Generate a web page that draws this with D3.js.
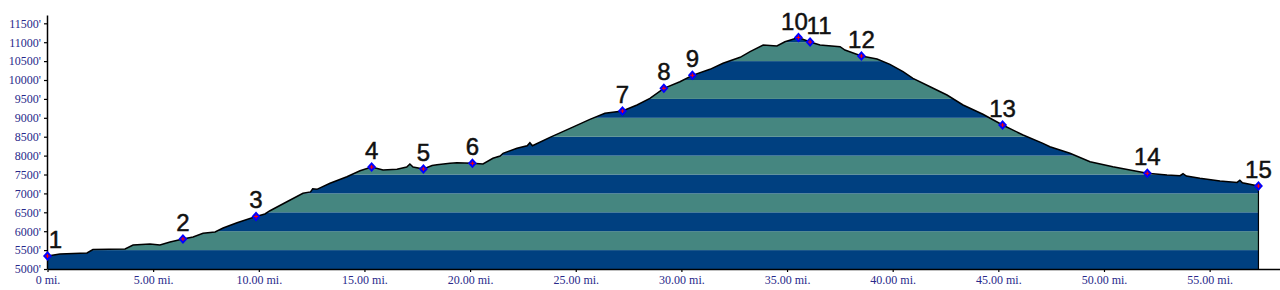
<!DOCTYPE html>
<html>
<head>
<meta charset="utf-8">
<script src="https://cdn.jsdelivr.net/npm/d3@7"></script>
<style>
  html, body { margin: 0; padding: 0; background: #fff; }
  svg { display: block; }
</style>
</head>
<body>
<svg id="chart" width="1280" height="290"></svg>
<script>
// Elevation profile (miles, feet)
const profileMiles = [0, 0.59, 1.87, 2.15, 3.67, 4.05, 4.85, 5.32, 5.80, 6.41, 6.89, 7.36, 7.93, 8.31, 8.97, 9.87,
  10.29, 10.53, 11.33, 12.09, 12.45, 12.55, 12.75, 13.37, 14.17, 14.79, 15.34, 15.88, 16.54, 17.00, 17.15, 17.30, 17.79, 18.20, 18.43, 19.05, 19.38,
  20.11, 20.61, 21.08, 21.42, 21.56, 22.22, 22.70, 22.83, 22.95, 23.78, 24.73, 25.67, 26.38, 27.21, 27.90, 28.51, 29.17, 29.93,
  30.52, 31.35, 31.97, 32.78, 33.25, 33.87, 34.52, 34.90, 35.54, 36.09, 36.56, 37.51, 37.74, 38.52, 39.26, 39.87,
  40.49, 40.96, 41.77, 42.57, 43.33, 44.27, 45.20, 46.17, 47.11, 47.44, 48.39, 49.34, 50.42, 51.23, 52.05, 52.98,
  53.60, 53.74, 53.90, 54.54, 55.49, 56.30, 56.43, 56.55, 57.31];
const profileFeet = [5344, 5397, 5423, 5516, 5529, 5635, 5661, 5635, 5714, 5794, 5847, 5944, 5979, 6085, 6225, 6389,
  6455, 6542, 6780, 7003, 7040, 7120, 7108, 7267, 7442, 7600, 7698, 7619, 7638, 7700, 7780, 7700, 7646, 7740, 7759, 7796, 7812,
  7796, 7778, 7929, 7989, 8061, 8193, 8260, 8340, 8260, 8484, 8722, 8960, 9119, 9180, 9339, 9516, 9780, 9955,
  10124, 10283, 10442, 10601, 10749, 10926, 10899, 11013, 11124, 11005, 10926, 10881, 10794, 10635, 10556, 10415,
  10220, 10045, 9823, 9603, 9339, 9093, 8810, 8545, 8325, 8235, 8061, 7839, 7706, 7619, 7532, 7487,
  7470, 7520, 7460, 7399, 7328, 7290, 7350, 7280, 7196];

// Waypoints
const waypointLabels = ["1","2","3","4","5","6","7","8","9","10","11","12","13","14","15"];
const waypointMiles = [0, 6.41, 9.87, 15.34, 17.79, 20.11, 27.21, 29.17, 30.52, 35.54, 36.09, 38.52, 45.20, 52.05, 57.31];
const waypointFeet = [5344, 5794, 6389, 7698, 7646, 7796, 9180, 9780, 10124, 11124, 11005, 10635, 8810, 7532, 7196];

// Axis ticks
const yTicks = [5000, 5500, 6000, 6500, 7000, 7500, 8000, 8500, 9000, 9500, 10000, 10500, 11000, 11500];
const xTicks = [0, 5, 10, 15, 20, 25, 30, 35, 40, 45, 50, 55];

const svg = d3.select("#chart");
const x = d3.scaleLinear().domain([0, 58.33]).range([47.5, 1280]);
const y = d3.scaleLinear().domain([5000, 11720]).range([269, 15]);

const profile = profileMiles.map((m, i) => ({ m, f: profileFeet[i] }));

const area = d3.area().x(d => x(d.m)).y0(y(5000)).y1(d => y(d.f));
const line = d3.line().x(d => x(d.m)).y(d => y(d.f));

svg.append("defs").append("clipPath").attr("id", "clip")
  .append("path").attr("d", area(profile));

// Bands
const bandG = svg.append("g").attr("clip-path", "url(#clip)");
const bandEdges = d3.range(5000, 11720, 500);
bandG.selectAll("rect").data(bandEdges).enter().append("rect")
  .attr("x", x(0))
  .attr("width", x(58.33) - x(0))
  .attr("y", d => y(d + 500))
  .attr("height", d => y(d) - y(d + 500))
  .attr("fill", (d, i) => i % 2 === 0 ? "#004080" : "#458680");

// Outline
svg.append("path").attr("d", line(profile))
  .attr("fill", "none").attr("stroke", "#000").attr("stroke-width", 1.5)
  .attr("stroke-linejoin", "miter");
const last = profile[profile.length - 1];
svg.append("line")
  .attr("x1", x(last.m)).attr("x2", x(last.m))
  .attr("y1", y(last.f)).attr("y2", y(5000))
  .attr("stroke", "#000").attr("stroke-width", 1.2);

// Axes
const axisColor = "#000";
const textColor = "#28288a";
const yAxis = svg.append("g")
  .call(d3.axisLeft(y).tickValues(yTicks).tickSize(3).tickSizeOuter(0).tickFormat(d => d + "'"));
yAxis.attr("transform", "translate(47,0)");
yAxis.select(".domain").attr("stroke", axisColor).attr("stroke-width", 1.5);
yAxis.selectAll(".tick line").attr("stroke", axisColor).attr("stroke-width", 1.2);
yAxis.selectAll(".tick text")
  .attr("x", -6)
  .attr("fill", textColor)
  .style("font-family", "'Liberation Serif', 'Times New Roman', serif")
  .style("font-size", "12px");

const xAxis = svg.append("g").attr("transform", "translate(0,269)")
  .call(d3.axisBottom(x).tickValues(xTicks).tickSize(3).tickSizeOuter(0)
    .tickFormat(d => d === 0 ? "0 mi." : d.toFixed(2) + " mi."));
xAxis.select(".domain").attr("stroke", axisColor).attr("stroke-width", 1.5);
xAxis.selectAll(".tick line").attr("stroke", axisColor).attr("stroke-width", 1.2);
xAxis.selectAll(".tick text")
  .attr("y", 6)
  .attr("fill", textColor)
  .style("font-family", "'Liberation Serif', 'Times New Roman', serif")
  .style("font-size", "12px");

// Waypoint markers
const wps = waypointLabels.map((l, i) => ({ l, m: waypointMiles[i], f: waypointFeet[i] }));
const labelNudge = { "1": 8, "10": -4, "11": 9 };
const mk = svg.append("g");
wps.forEach(d => {
  const cx = x(d.m), cy = y(d.f);
  mk.append("path")
    .attr("d", `M${cx},${cy - 5}L${cx + 4.5},${cy}L${cx},${cy + 5}L${cx - 4.5},${cy}Z`)
    .attr("fill", "#0000ff");
  mk.append("path")
    .attr("d", `M${cx - 2},${cy}H${cx + 2}M${cx},${cy - 2}V${cy + 2}`)
    .attr("stroke", "#ff0000").attr("stroke-width", 1);
  mk.append("text")
    .attr("x", cx + (labelNudge[d.l] || 0))
    .attr("y", cy - 8)
    .attr("text-anchor", "middle")
    .attr("fill", "#111")
    .attr("stroke", "#111")
    .attr("stroke-width", 0.5)
    .style("font-family", "'Liberation Sans', Arial, sans-serif")
    .style("font-size", "24px")
    .text(d.l);
});
</script>
</body>
</html>
